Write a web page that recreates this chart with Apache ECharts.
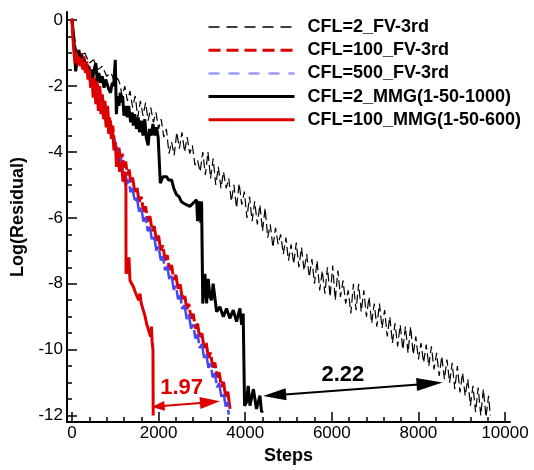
<!DOCTYPE html>
<html>
<head>
<meta charset="utf-8">
<script src="https://cdn.jsdelivr.net/npm/echarts@6/dist/echarts.min.js"></script>
<style>
html,body{margin:0;padding:0;background:#fff;}
#chart{width:534px;height:470px;}
</style>
</head>
<body>
<div id="chart"></div>
<script>
// ---------- data ----------
const legendNames = ['CFL=2_FV-3rd','CFL=100_FV-3rd','CFL=500_FV-3rd','CFL=2_MMG(1-50-1000)','CFL=100_MMG(1-50-600)'];
const xMajor = [0,2000,4000,6000,8000,10000];
const xMinor = [400,800,1200,1600,2400,2800,3200,3600,4400,4800,5200,5600,6400,6800,7200,7600,8400,8800,9200,9600];
const yMajor = [-12,-10,-8,-6,-4,-2,0];
const yMinor = [-11.5,-11,-10.5,-9.5,-9,-8.5,-7.5,-7,-6.5,-5.5,-5,-4.5,-3.5,-3,-2.5,-1.5,-1,-0.5];

// CFL=2_FV-3rd (thin black dashed)
const fv2 = [[0,0],[100,-0.9],[200,-1.05],[300,-1.0],[400,-1.3],[500,-1.2],[600,-1.5],[700,-1.4],[800,-1.7],[900,-1.6],[1000,-1.9],[1050,-1.75],
[1100,-1.9],[1160,-2.3],[1220,-2.0],[1280,-2.45],[1340,-2.15],[1400,-2.65],[1460,-2.3],[1520,-2.95],[1580,-2.45],[1640,-2.9],[1700,-2.5],[1760,-3.05],[1820,-2.65],[1880,-3.1],[1940,-2.8],[2000,-3.3],[2060,-3.0],[2120,-3.55],[2180,-3.3],[2240,-4.05],[2300,-3.7],[2360,-4.1],[2420,-3.4],[2480,-3.9],[2540,-3.4],[2600,-4.0],[2660,-3.55],[2720,-4.05],[2780,-3.8],[2840,-4.4],[2900,-4.25],[2960,-4.6],[3020,-4.0],[3080,-4.7],[3140,-4.0],[3200,-4.8],[3260,-4.2],[3320,-5.0],[3380,-4.45],[3440,-5.1],[3500,-4.6],[3560,-5.1],[3620,-4.8],[3680,-5.5],[3740,-5.0],[3800,-5.7],[3860,-4.95],[3920,-5.6],[3980,-5.2],[4040,-6.0],[4100,-5.35],[4160,-6.1],[4220,-5.5],[4280,-6.2],[4340,-5.6],[4400,-6.4],[4460,-5.7],[4520,-6.6],[4580,-6.2],[4640,-6.9],[4700,-6.3],[4760,-6.8],[4820,-6.5],[4880,-7.1],[4940,-6.6],[5000,-7.3],[5060,-6.8],[5120,-7.4],[5180,-6.75],[5240,-7.5],[5300,-6.9],[5360,-7.6],[5420,-7.1],[5480,-7.8],[5540,-7.25],[5600,-8.0],[5660,-7.3],[5720,-8.2],[5780,-7.6],[5840,-8.3],[5900,-7.5],[5960,-8.4],[6020,-7.45],[6080,-8.5],[6140,-7.6],[6200,-8.4],[6260,-7.9],[6320,-8.6],[6380,-8.2],[6440,-8.9],[6500,-8.0],[6560,-8.8],[6620,-8.0],[6680,-8.85],[6740,-8.2],[6800,-9.0],[6860,-8.4],[6920,-9.2],[6980,-8.6],[7040,-9.3],[7100,-8.6],[7160,-9.35],[7220,-8.8],[7280,-9.6],[7340,-9.0],[7400,-9.8],[7460,-9.2],[7520,-9.9],[7580,-9.25],[7640,-10.0],[7700,-9.3],[7760,-10.1],[7820,-9.3],[7880,-10.15],[7940,-9.6],[8000,-10.3],[8060,-9.8],[8120,-10.4],[8180,-9.85],[8240,-10.5],[8300,-9.9],[8360,-10.6],[8420,-10.1],[8480,-10.8],[8540,-10.2],[8600,-10.9],[8660,-10.3],[8720,-11.0],[8780,-10.4],[8840,-11.2],[8900,-10.5],[8960,-11.3],[9020,-10.7],[9080,-11.4],[9140,-10.9],[9200,-11.7],[9260,-11.1],[9320,-11.9],[9380,-11.15],[9440,-12.0],[9500,-11.2],[9560,-12.05],[9620,-11.4],[9660,-12.0]];

// CFL=100_FV-3rd (red dashed)
const fv100 = [[0,0.05],[25,-0.45],[50,-0.85],[75,-1.1],[100,-0.9],[130,-1.2],[160,-0.95],[190,-1.25],[220,-1.0],[250,-1.35],[280,-1.1],[310,-1.45],[340,-1.25],[370,-1.6],[400,-1.4],[430,-1.8],[460,-1.6],[490,-2.0],[520,-1.75],[550,-2.15],[580,-1.85],[610,-2.3],[640,-2.0],[670,-2.5],[700,-2.25],[730,-2.7],[760,-2.45],[790,-2.9],[820,-2.6],[850,-3.1],[880,-2.95],[910,-3.35],[940,-3.2],[970,-3.6],
[1000,-3.58],[1040,-4.0],[1080,-3.82],[1120,-4.24],[1160,-4.05],[1200,-4.47],[1240,-4.29],[1280,-4.71],[1320,-4.53],[1360,-4.95],[1400,-4.77],[1450,-5.21],[1500,-5.06],[1550,-5.51],[1600,-5.36],[1650,-5.81],[1700,-5.65],[1750,-6.1],[1800,-5.95],[1850,-6.4],[1900,-6.25],[1950,-6.69],[2000,-6.54],[2050,-6.99],[2100,-6.84],[2150,-7.29],[2200,-7.13],[2250,-7.58],[2300,-7.43],[2350,-7.88],[2400,-7.73],[2450,-8.17],[2500,-8.02],[2550,-8.47],[2600,-8.32],[2650,-8.77],[2700,-8.61],[2750,-9.06],[2800,-8.91],[2850,-9.36],[2900,-9.21],[2950,-9.65],[3000,-9.5],[3050,-9.95],[3100,-9.8],[3150,-10.25],[3200,-10.09],[3250,-10.54],[3300,-10.39],[3350,-10.84],[3400,-10.69],[3450,-11.13],[3500,-10.98],[3550,-11.43],[3600,-11.28],[3630,-11.6],[3650,-11.8]];

// CFL=500_FV-3rd (blue dashed)
const fv500 = [[0,0.05],[30,-0.6],[60,-1.0],[100,-1.1],[150,-1.2],[200,-1.3],[260,-1.35],[320,-1.55],[380,-1.65],[440,-1.95],[500,-2.05],[560,-2.3],[620,-2.4],[680,-2.7],[740,-2.8],[800,-3.05],[860,-3.2],[920,-3.5],[980,-3.65],[1040,-3.95],[1100,-4.1],
[1150,-4.36],[1190,-4.74],[1230,-4.59],[1270,-4.98],[1310,-4.83],[1350,-5.22],[1400,-5.1],[1450,-5.51],[1500,-5.39],[1550,-5.81],[1600,-5.69],[1650,-6.11],[1700,-5.98],[1750,-6.4],[1800,-6.28],[1850,-6.7],[1900,-6.58],[1950,-6.99],[2000,-6.87],[2050,-7.29],[2100,-7.17],[2150,-7.59],[2200,-7.46],[2250,-7.88],[2300,-7.76],[2350,-8.18],[2400,-8.06],[2450,-8.47],[2500,-8.35],[2550,-8.77],[2600,-8.65],[2650,-9.07],[2700,-8.94],[2750,-9.36],[2800,-9.24],[2850,-9.66],[2900,-9.54],[2950,-9.95],[3000,-9.83],[3050,-10.25],[3100,-10.13],[3150,-10.55],[3200,-10.42],[3250,-10.84],[3300,-10.72],[3350,-11.14],[3400,-11.02],[3450,-11.43],[3500,-11.31],[3550,-11.73],[3590,-11.6],[3620,-11.97]];

// CFL=2_MMG(1-50-1000) (black solid)
const mmg2 = [[0,0],[40,-0.5],[85,-1.55],[120,-1.2],[160,-0.9],[190,-1.35],[220,-1.05],[250,-1.4],[280,-1.2],[320,-1.55],[360,-1.35],[400,-1.65],[440,-1.5],[480,-1.75],[520,-1.45],[550,-1.3],[585,-1.85],[620,-1.6],[660,-1.9],[700,-1.7],[740,-2.05],[780,-1.8],[815,-1.75],[850,-2.1],[890,-2.2],[930,-1.9],[960,-2.0],[1000,-1.2],[1012,-1.15],[1025,-2.85],[1055,-2.3],[1085,-2.6],[1115,-2.2],[1140,-2.5],[1170,-2.3],[1200,-2.9],[1240,-2.6],[1276,-2.95],[1310,-2.6],[1355,-3.1],[1390,-2.8],[1415,-3.2],[1450,-2.85],[1490,-3.3],[1530,-2.95],[1560,-3.4],[1600,-3.05],[1640,-3.5],[1680,-3.0],[1720,-3.6],[1760,-3.8],[1790,-3.3],[1830,-3.5],[1870,-3.15],[1910,-3.5],[1950,-3.25],[1990,-3.55],[2031,-3.5],[2040,-4.95],[2070,-4.9],[2100,-4.75],[2146,-4.8],[2186,-4.75],[2230,-4.85],[2262,-4.8],[2301,-4.85],[2350,-5.1],[2416,-5.3],[2470,-5.35],[2520,-5.5],[2569,-5.55],[2640,-5.6],[2723,-5.65],[2800,-5.55],[2878,-5.45],[2900,-6.1],[2930,-5.6],[2954,-5.5],[2975,-6.15],[2993,-5.5],[3016,-5.5],[3020,-8.6],[3070,-7.7],[3109,-8.6],[3146,-7.85],[3185,-8.4],[3224,-8.5],[3260,-8.0],[3300,-7.95],[3340,-8.85],[3377,-8.85],[3415,-8.7],[3455,-8.75],[3495,-9.0],[3531,-8.95],[3570,-8.75],[3607,-8.8],[3645,-9.05],[3686,-9.05],[3725,-8.8],[3762,-8.8],[3800,-9.15],[3838,-9.15],[3877,-8.75],[3917,-9.25],[3954,-8.9],[3977,-8.9],[3985,-11.7],[4030,-11.6],[4069,-11.1],[4110,-11.7],[4148,-11.65],[4190,-11.2],[4224,-11.15],[4260,-11.8],[4300,-11.75],[4340,-11.4],[4378,-11.9],[4401,-11.85]];

// CFL=100_MMG(1-50-600) (red solid)
const mmg100 = [[0,0.05],[25,-0.6],[50,-1.05],[75,-1.3],[100,-1.0],[130,-1.35],[160,-1.1],[190,-1.4],[220,-1.15],[250,-1.5],[280,-1.25],[310,-1.6],[340,-1.35],[370,-1.8],[400,-1.5],[430,-2.05],[460,-1.75],[490,-2.35],[520,-1.95],[550,-2.55],[580,-2.2],[610,-2.75],[640,-2.4],[670,-2.85],[700,-2.55],[730,-3.0],[760,-2.75],[790,-3.25],[820,-2.95],[850,-3.45],[880,-3.15],[910,-3.6],[940,-3.4],[970,-3.95],[1000,-3.7],[1030,-4.45],[1060,-4.0],[1100,-4.6],[1140,-4.3],[1180,-4.9],[1220,-4.6],[1246,-5.1],[1248,-7.7],[1270,-7.35],[1295,-7.7],[1315,-7.2],[1340,-7.9],[1380,-7.95],[1420,-8.1],[1460,-8.25],[1500,-8.2],[1540,-8.5],[1569,-8.3],[1600,-8.6],[1646,-8.8],[1690,-9.0],[1720,-9.2],[1760,-9.25],[1790,-9.5],[1815,-9.6],[1835,-9.3],[1850,-9.75],[1870,-10.0],[1876,-12.0]];

// annotations: [x1, y1, x2, y2] in data units, text and its anchor
const arrowData = [[1840,-11.74,3416,-11.57],[4415,-11.41,8556,-11.0]];
const arrowLabels = ['1.97','2.22'];
const arrowLabelPos = [[2532,-11.16],[6255,-10.76]];

// ---------- styles ----------
const RED = '#dd0000', BLUE = '#4646f2', BLUE_LEG = '#9a9aff', BLACK = '#000';
const FONT = '"Liberation Sans", Arial, Helvetica, sans-serif';
const arrowStyle = [
  {color: RED, headL: [13, 20], headW: [5, 6]},
  {color: BLACK, headL: [23, 26], headW: [6, 6.5]}
];

const chart = echarts.init(document.getElementById('chart'), null, {renderer: 'canvas'});

function plainNum(v) { return String(v); }

function xAxisBase(extra) {
  return Object.assign({
    type: 'value', min: -115, max: 10115, gridIndex: 0, position: 'bottom',
    splitLine: {show: false}, minorTick: {show: false}
  }, extra);
}
function yAxisBase(extra) {
  return Object.assign({
    type: 'value', min: -12.2, max: 0.25, gridIndex: 0, position: 'left',
    splitLine: {show: false}, minorTick: {show: false}
  }, extra);
}

function renderArrow(params, api) {
  const i = params.dataIndex;
  const st = arrowStyle[i];
  const p1 = api.coord([api.value(0), api.value(1)]);
  const p2 = api.coord([api.value(2), api.value(3)]);
  const dx = p2[0] - p1[0], dy = p2[1] - p1[1];
  const len = Math.sqrt(dx * dx + dy * dy);
  const ux = dx / len, uy = dy / len, nx = -uy, ny = ux;
  const L1 = st.headL[0], L2 = st.headL[1], W1 = st.headW[0], W2 = st.headW[1];
  const h1 = [p1, [p1[0] + ux * L1 + nx * W1, p1[1] + uy * L1 + ny * W1], [p1[0] + ux * L1 - nx * W1, p1[1] + uy * L1 - ny * W1]];
  const h2 = [p2, [p2[0] - ux * L2 + nx * W2, p2[1] - uy * L2 + ny * W2], [p2[0] - ux * L2 - nx * W2, p2[1] - uy * L2 - ny * W2]];
  const tp = api.coord(arrowLabelPos[i]);
  return {
    type: 'group',
    children: [
      {type: 'line', shape: {x1: p1[0] + ux * L1 * 0.8, y1: p1[1] + uy * L1 * 0.8, x2: p2[0] - ux * L2 * 0.8, y2: p2[1] - uy * L2 * 0.8},
       style: {stroke: st.color, lineWidth: 2}},
      {type: 'polygon', shape: {points: h1}, style: {fill: st.color}},
      {type: 'polygon', shape: {points: h2}, style: {fill: st.color}},
      {type: 'text', x: tp[0], y: tp[1],
       style: {text: arrowLabels[i], fill: st.color, font: 'bold 22px ' + FONT, align: 'center', verticalAlign: 'middle', textAlign: 'center', textVerticalAlign: 'middle'}}
    ]
  };
}

function lineSeries(name, data, color, width, type, z) {
  return {
    name: name, type: 'line', data: data, xAxisIndex: 0, yAxisIndex: 0,
    showSymbol: false, symbol: 'none', smooth: false, z: z,
    lineStyle: {color: color, width: width, type: type},
    itemStyle: {color: color},
    emphasis: {disabled: true}
  };
}

const hiddenSym = {opacity: 0, borderWidth: 0};
const option = {
  animation: false,
  backgroundColor: '#fff',
  textStyle: {fontFamily: FONT},
  grid: {left: 67, right: 24, top: 12, bottom: 42, containLabel: false},
  legend: {
    orient: 'vertical', left: 207, top: 17, padding: 0,
    itemWidth: 86, itemHeight: 12, itemGap: 3.2,
    itemStyle: hiddenSym,
    textStyle: {fontSize: 18, fontWeight: 'bold', color: '#000', fontFamily: FONT, lineHeight: 20, padding: [0, 0, 0, 8]},
    data: [
      {name: legendNames[0], itemStyle: hiddenSym, lineStyle: {type: [11, 7], width: 1.3}},
      {name: legendNames[1], itemStyle: hiddenSym, lineStyle: {type: [12, 6], width: 3}},
      {name: legendNames[2], itemStyle: hiddenSym, lineStyle: {color: BLUE_LEG, type: [11, 9], width: 2.5}},
      {name: legendNames[3], itemStyle: hiddenSym, lineStyle: {width: 3}},
      {name: legendNames[4], itemStyle: hiddenSym, lineStyle: {width: 3}}
    ],
    selectedMode: false
  },
  xAxis: [
    xAxisBase({
      name: 'Steps', nameLocation: 'middle', nameGap: 6,
      nameTextStyle: {fontSize: 18, fontWeight: 'bold', color: '#000', fontFamily: FONT},
      axisLine: {show: true, onZero: false, lineStyle: {color: '#000', width: 2}},
      axisTick: {show: true, inside: true, length: 10, customValues: xMajor, lineStyle: {color: '#000', width: 1.5}},
      axisLabel: {show: true, customValues: xMajor, formatter: plainNum, fontSize: 17, color: '#000', margin: 3, fontFamily: FONT}
    }),
    xAxisBase({
      axisLine: {show: false, onZero: false},
      axisTick: {show: true, inside: true, length: 5, customValues: xMinor, lineStyle: {color: '#000', width: 1.5}},
      axisLabel: {show: false}
    })
  ],
  yAxis: [
    yAxisBase({
      name: 'Log(Residual)', nameLocation: 'middle', nameGap: 25, nameRotate: 90,
      nameTextStyle: {fontSize: 18, fontWeight: 'bold', color: '#000', fontFamily: FONT},
      axisLine: {show: true, onZero: false, lineStyle: {color: '#000', width: 2}},
      axisTick: {show: true, inside: true, length: 10, customValues: yMajor, lineStyle: {color: '#000', width: 1.5}},
      axisLabel: {show: true, customValues: yMajor, formatter: plainNum, fontSize: 17, color: '#000', margin: 4, fontFamily: FONT}
    }),
    yAxisBase({
      axisLine: {show: false, onZero: false},
      axisTick: {show: true, inside: true, length: 5, customValues: yMinor, lineStyle: {color: '#000', width: 1.5}},
      axisLabel: {show: false}
    })
  ],
  series: [
    lineSeries(legendNames[0], fv2, BLACK, 1.2, [9, 4], 2),
    lineSeries(legendNames[1], fv100, RED, 3, [22, 3], 3),
    lineSeries(legendNames[2], fv500, BLUE, 2.5, [22, 3], 4),
    lineSeries(legendNames[3], mmg2, BLACK, 3, 'solid', 5),
    lineSeries(legendNames[4], mmg100, RED, 3, 'solid', 6),
    {
      type: 'custom', name: 'arrows', xAxisIndex: 0, yAxisIndex: 0, z: 7,
      data: arrowData, encode: {x: [0, 2], y: [1, 3]},
      renderItem: renderArrow, silent: true, clip: false
    }
  ]
};
chart.setOption(option);
</script>
</body>
</html>
